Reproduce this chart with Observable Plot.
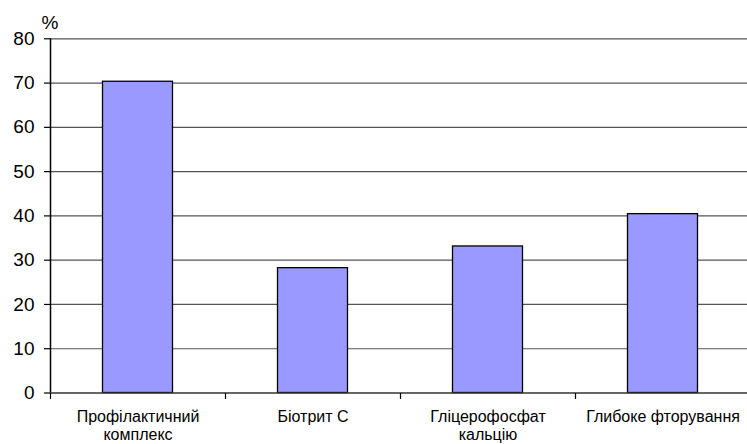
<!DOCTYPE html>
<html>
<head>
<meta charset="utf-8">
<script src="https://cdn.jsdelivr.net/npm/d3@7"></script>
<script src="https://cdn.jsdelivr.net/npm/@observablehq/plot@0.6"></script>
<style>
  html, body { margin: 0; padding: 0; background: #fff; }
  #chart { position: relative; width: 747px; height: 444px; overflow: hidden; }
  #chart svg { position: absolute; left: 0; top: 0; overflow: visible; }
</style>
</head>
<body>
<div id="chart"></div>
<script>
const categories = [["Профілактичний", "комплекс"], ["Біотрит С"], ["Гліцерофосфат", "кальцію"], ["Глибоке фторування"]];
const values = [70.3, 28.2, 33.1, 40.4];
const yTicks = [0, 10, 20, 30, 40, 50, 60, 70, 80];
const unitLabel = "%";

const bars = values.map((v, i) => ({i, v}));
const labels = categories.map((c, i) => ({i, text: c.join("\n")}));
const boundaries = d3.range(categories.length + 1);

const font = "Liberation Sans, Arial, sans-serif";

const chart = Plot.plot({
  width: 747,
  height: 444,
  marginLeft: 50,
  marginRight: 0,
  marginTop: 38,
  marginBottom: 51,
  style: {fontFamily: font, background: "transparent", color: "#000", overflow: "visible"},
  x: {type: "linear", domain: [0, categories.length], range: [50, 750]},
  y: {domain: [0, 80], range: [392.5, 38.3]},
  marks: [
    Plot.ruleY(yTicks.filter(t => t > 0), {x1: 0, x2: categories.length, stroke: "#555", strokeWidth: 1.2}),
    Plot.rect(bars, {x1: d => d.i + 0.3, x2: d => d.i + 0.7, y1: 0, y2: "v", fill: "#9999FF", stroke: "#000", strokeWidth: 1.3}),
    Plot.ruleY([0], {x1: 0, x2: categories.length, stroke: "#333", strokeWidth: 1.5}),
    Plot.ruleX([0], {y1: 0, y2: 80, stroke: "#000", strokeWidth: 1.5}),
    Plot.axisY({ticks: yTicks, tickSize: 6, tickPadding: 10, fontSize: 19, label: null, stroke: "#000", strokeWidth: 1.2, strokeOpacity: 1, fill: "#000"}),
    Plot.axisX({ticks: boundaries, tickSize: 6, tickFormat: () => "", label: null, stroke: "#000", strokeWidth: 1.2, strokeOpacity: 1}),
    Plot.text(labels, {x: d => d.i + 0.5, y: 0, text: "text", dy: 16, lineAnchor: "top", fontSize: 16, lineHeight: 1.12, fill: "#000"}),
    Plot.text([unitLabel], {x: 0, y: 80, text: d => d, dx: -9, dy: -16, textAnchor: "start", fontSize: 19, fill: "#000"})
  ]
});

document.getElementById("chart").appendChild(chart);
</script>
</body>
</html>
